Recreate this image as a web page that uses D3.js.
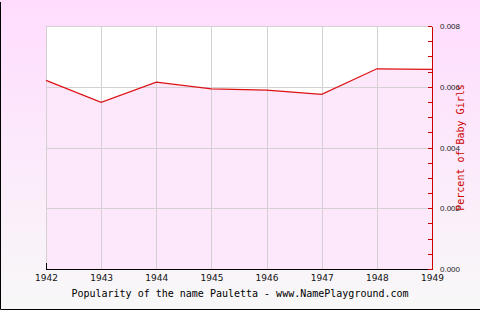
<!DOCTYPE html>
<html>
<head>
<meta charset="utf-8">
<script src="https://cdn.jsdelivr.net/npm/d3@7"></script>
<style>
  body { margin: 0; padding: 0; }
  svg { display: block; }
</style>
</head>
<body>
<div id="chart-container"></div>
<script>
// Chart data
const years = [1942, 1943, 1944, 1945, 1946, 1947, 1948, 1949];
const percents = [0.00621, 0.00549, 0.00615, 0.00593, 0.00589, 0.00575, 0.00659, 0.00657];
const yTicks = [0, 0.002, 0.004, 0.006, 0.008];
const yTickLabels = ['0.000', '0.002', '0.004', '0.006', '0.008'];
const title = 'Popularity of the name Pauletta - www.NamePlayground.com';
const yLabel = 'Percent of Baby Girls';

const W = 480, H = 310;
const margin = { top: 26, right: 48, bottom: 41, left: 46 };
const width = W - margin.left - margin.right;
const height = H - margin.top - margin.bottom;

const svg = d3.select('#chart-container').append('svg')
  .attr('width', W)
  .attr('height', H);

// Background gradient
const defs = svg.append('defs');
const grad = defs.append('linearGradient')
  .attr('id', 'bg')
  .attr('x1', 0).attr('y1', 0).attr('x2', 0).attr('y2', 1);
grad.append('stop').attr('offset', '0%').attr('stop-color', '#ffdcfe');
grad.append('stop').attr('offset', '100%').attr('stop-color', '#f8f8f8');

svg.append('rect')
  .attr('width', W).attr('height', H)
  .attr('fill', 'url(#bg)');

// Left and bottom border
svg.append('path')
  .attr('d', `M0.5,2 V${H - 0.5} H${W}`)
  .attr('fill', 'none')
  .attr('stroke', '#000');

const g = svg.append('g')
  .attr('transform', `translate(${margin.left},${margin.top})`);

// Scales
const x = d3.scaleLinear()
  .domain([years[0], years[years.length - 1]])
  .range([0, width]);

const y = d3.scaleLinear()
  .domain([0, 0.008])
  .range([height, 0]);

const data = years.map((yr, i) => ({ year: yr, value: percents[i] }));

// Plot background (white above the line)
g.append('rect')
  .attr('width', width).attr('height', height)
  .attr('fill', '#fff');

// Area under the line
const area = d3.area()
  .x(d => x(d.year))
  .y0(height)
  .y1(d => y(d.value));

g.append('path')
  .datum(data)
  .attr('d', area)
  .attr('fill', '#fde7fb');

// Gridlines
g.append('g')
  .attr('class', 'grid')
  .attr('transform', `translate(0,${height})`)
  .call(d3.axisBottom(x).tickValues(years).tickSize(-height).tickFormat(''))
  .call(s => s.select('.domain').remove())
  .selectAll('line')
  .attr('stroke', '#d4d0d4')
  .attr('shape-rendering', 'crispEdges');

g.append('g')
  .attr('class', 'grid')
  .call(d3.axisLeft(y).tickValues(yTicks).tickSize(-width).tickFormat(''))
  .call(s => s.select('.domain').remove())
  .selectAll('line')
  .attr('stroke', '#d4d0d4')
  .attr('shape-rendering', 'crispEdges');

// Data line
const line = d3.line()
  .x(d => x(d.year))
  .y(d => y(d.value));

g.append('path')
  .datum(data)
  .attr('d', line)
  .attr('fill', 'none')
  .attr('stroke', '#dd1111')
  .attr('stroke-width', 1.2);

// Bottom axis
const xAxis = g.append('g')
  .attr('transform', `translate(0,${height})`)
  .call(d3.axisBottom(x).tickValues(years).tickFormat(d3.format('d')).tickSizeInner(0).tickSizeOuter(-6).tickPadding(6));
xAxis.select('.domain')
  .attr('stroke', '#000')
  .attr('shape-rendering', 'crispEdges');
xAxis.selectAll('text')
  .attr('fill', '#111')
  .style('font-family', '"DejaVu Sans", sans-serif')
  .style('font-size', '9px');

// Right axis (red) with minor ticks every 0.0005
const minorTicks = d3.range(0, 0.00801, 0.0005);
const yAxis = g.append('g')
  .attr('transform', `translate(${width},0)`)
  .call(d3.axisRight(y).tickValues(minorTicks).tickSizeInner(-4).tickSizeOuter(0).tickFormat(''));
yAxis.selectAll('line, path')
  .attr('stroke', '#cc0000')
  .attr('shape-rendering', 'crispEdges');

// Right axis labels
g.append('g')
  .selectAll('text')
  .data(yTicks)
  .enter().append('text')
  .attr('x', width + 8)
  .attr('y', d => y(d) + 3)
  .attr('fill', '#222')
  .style('font-family', '"Liberation Sans", sans-serif')
  .style('font-size', '8px')
  .text((d, i) => yTickLabels[i]);

// Y axis title
g.append('text')
  .attr('transform', `translate(${width + 32},${height / 2}) rotate(-90)`)
  .attr('text-anchor', 'middle')
  .attr('fill', '#cc0000')
  .style('font-family', '"DejaVu Sans Mono", monospace')
  .style('font-size', '10px')
  .text(yLabel);

// Chart title
svg.append('text')
  .attr('x', 240)
  .attr('y', 297)
  .attr('text-anchor', 'middle')
  .attr('fill', '#000')
  .style('font-family', '"DejaVu Sans Mono", monospace')
  .style('font-size', '10px')
  .text(title);
</script>
</body>
</html>
